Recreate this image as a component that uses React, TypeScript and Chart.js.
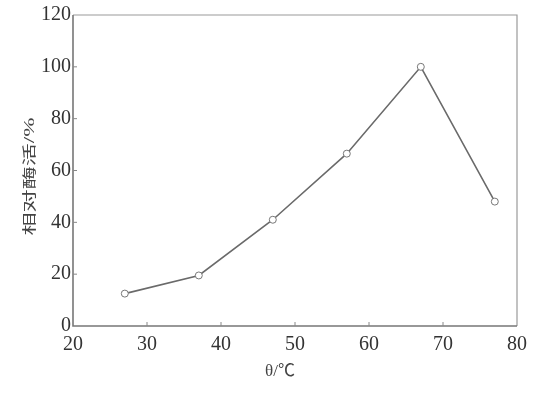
import React, { useEffect, useRef } from "react";
import { Chart, registerables } from "chart.js";

Chart.register(...registerables);

const temperatures = [27, 37, 47, 57, 67, 77];
const relativeActivity = [12.5, 19.5, 41, 66.5, 100, 48];
const xTitle = "θ/℃";
const yTitle = "相对酶活/%";

const FONT = '"Liberation Serif", "Noto Sans CJK SC", serif';

const framePlugin = {
  id: "frameTicks",
  afterDraw(chart: any) {
    const { ctx, chartArea } = chart;
    const { left, right, top, bottom } = chartArea;
    const xs = chart.scales.x;
    const ys = chart.scales.y;
    ctx.save();
    ctx.lineWidth = 1.2;
    ctx.strokeStyle = "#9a9a9a";
    ctx.beginPath();
    ctx.moveTo(left, top);
    ctx.lineTo(right, top);
    ctx.lineTo(right, bottom);
    ctx.stroke();
    ctx.lineWidth = 1.6;
    ctx.strokeStyle = "#777";
    ctx.beginPath();
    ctx.moveTo(left, top);
    ctx.lineTo(left, bottom);
    ctx.lineTo(right, bottom);
    ctx.stroke();
    ctx.lineWidth = 1;
    ctx.strokeStyle = "#888";
    ctx.beginPath();
    xs.ticks.forEach((t: any) => {
      const px = xs.getPixelForValue(t.value);
      if (px > left + 1 && px < right - 1) {
        ctx.moveTo(px, bottom);
        ctx.lineTo(px, bottom - 4);
      }
    });
    ys.ticks.forEach((t: any) => {
      const py = ys.getPixelForValue(t.value);
      if (py > top + 1 && py < bottom - 1) {
        ctx.moveTo(left, py);
        ctx.lineTo(left + 4, py);
      }
    });
    ctx.stroke();

    // axis titles
    ctx.fillStyle = "#444";
    ctx.textAlign = "center";
    ctx.textBaseline = "middle";
    ctx.font = "17px " + FONT;
    ctx.fillText(xTitle, xs.getPixelForValue(20) + 207, 372);

    ctx.save();
    ctx.translate(30, ys.getPixelForValue(60) + 6);
    ctx.rotate(-Math.PI / 2);
    ctx.scale(1.65, 1);
    ctx.font = "14px " + FONT;
    ctx.fillText(yTitle, 0, 0);
    ctx.restore();

    ctx.restore();
  },
};

export default function App() {
  const ref = useRef<HTMLCanvasElement>(null);
  useEffect(() => {
    if (!ref.current) return;
    const chart = new Chart(ref.current, {
      type: "line",
      data: {
        datasets: [
          {
            data: temperatures.map((x, i) => ({ x, y: relativeActivity[i] })),
            borderColor: "#6a6a6a",
            borderWidth: 1.6,
            pointRadius: 3.5,
            pointBorderWidth: 1,
            pointBackgroundColor: "#ffffff",
            pointBorderColor: "#777",
            tension: 0,
          },
        ],
      },
      options: {
        responsive: false,
        animation: false,
        layout: { padding: { left: 0, right: 33, top: 15, bottom: 0 } },
        plugins: { legend: { display: false }, tooltip: { enabled: false } },
        scales: {
          x: {
            type: "linear",
            min: 20,
            max: 80,
            grid: { display: false, drawTicks: false },
            border: { display: false },
            afterFit: (s: any) => {
              s.height = 74;
            },
            ticks: {
              stepSize: 10,
              padding: 7,
              color: "#333",
              font: { family: FONT, size: 20 },
            },
            title: { display: false, text: xTitle },
          },
          y: {
            min: 0,
            max: 120,
            grid: { display: false, drawTicks: false },
            border: { display: false },
            afterFit: (s: any) => {
              s.width = 73;
            },
            ticks: {
              stepSize: 20,
              padding: 2,
              color: "#333",
              font: { family: FONT, size: 20 },
            },
            title: { display: false, text: yTitle },
          },
        },
      },
      plugins: [framePlugin],
    });
    return () => chart.destroy();
  }, []);
  return (
    <div style={{ position: "fixed", left: 0, top: 0, width: 550, height: 400, background: "#fff" }}>
      <canvas ref={ref} width={550} height={400} />
    </div>
  );
}
